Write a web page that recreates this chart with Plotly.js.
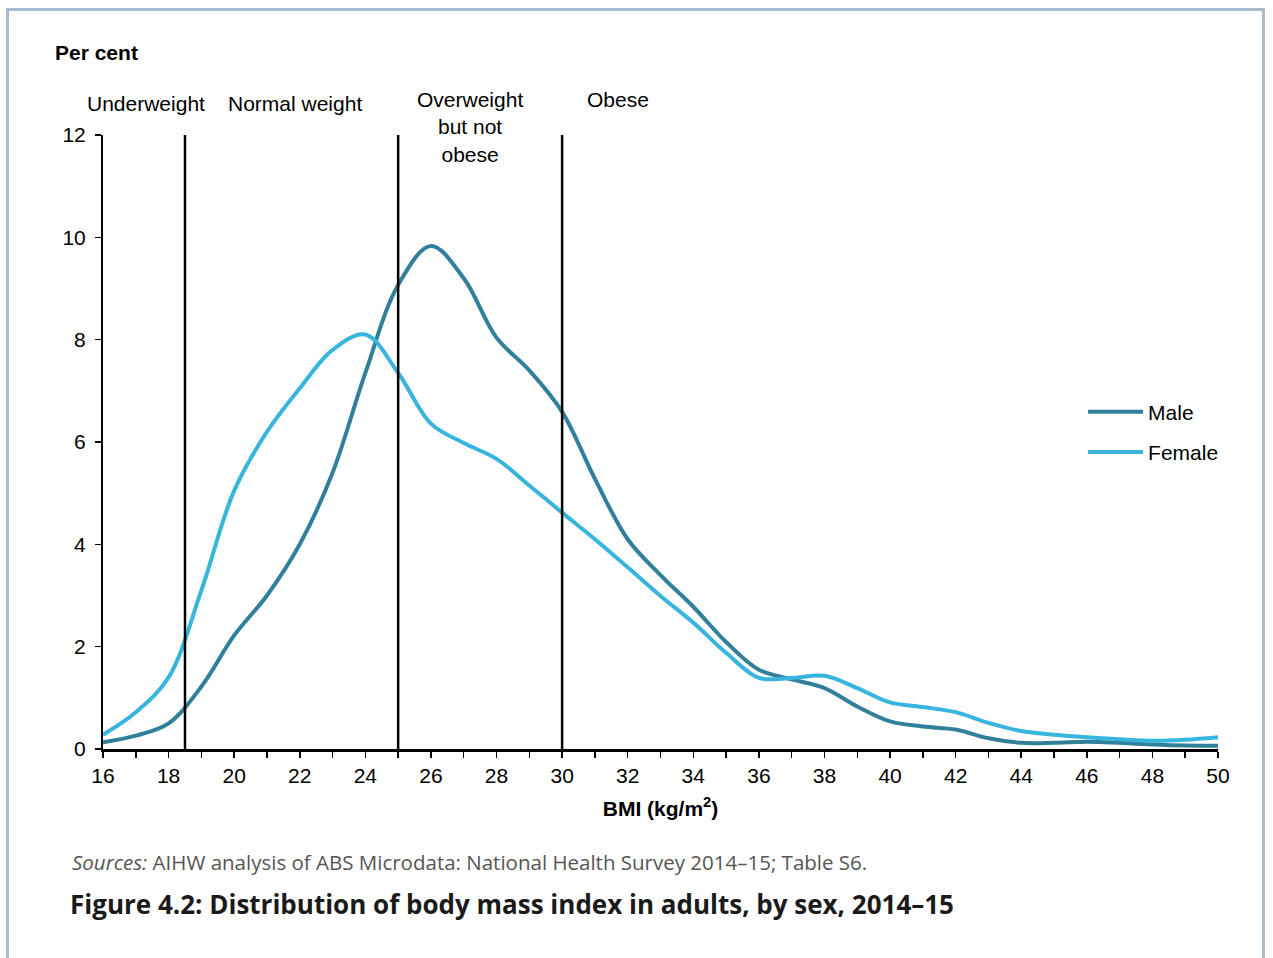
<!DOCTYPE html>
<html>
<head>
<meta charset="utf-8">
<script src="https://cdn.plot.ly/plotly-3.0.1.min.js"></script>
<style>
  html, body { margin: 0; padding: 0; background: #ffffff; }
  #frame { position: absolute; left: 6px; top: 8px; width: 1259px; height: 990px; border: 3px solid #a9bccb; box-sizing: border-box; }
  #chart { position: absolute; left: 0; top: 0; width: 1273px; height: 958px; }
</style>
</head>
<body>
<div id="frame"></div>
<div id="chart"></div>
<script>
// BMI values (kg/m2)
const bmi = [16,17,18,19,20,21,22,23,24,25,26,27,28,29,30,31,32,33,34,35,36,37,38,39,40,41,42,43,44,45,46,47,48,49,50];
// Per cent of adults
const male = [0.13,0.26,0.5,1.22,2.22,3.0,4.0,5.4,7.35,9.07,9.83,9.2,8.04,7.4,6.59,5.28,4.1,3.4,2.78,2.09,1.55,1.36,1.19,0.83,0.54,0.44,0.38,0.21,0.12,0.12,0.14,0.12,0.09,0.07,0.065];
const female = [0.28,0.72,1.4,3.1,5.05,6.2,7.05,7.8,8.1,7.35,6.36,5.98,5.67,5.15,4.62,4.1,3.55,2.99,2.47,1.88,1.39,1.39,1.43,1.19,0.91,0.82,0.72,0.51,0.35,0.28,0.23,0.19,0.16,0.18,0.23];
// Category thresholds and labels
const thresholds = [18.5, 25, 30];
const categoryLabels = ["Underweight", "Normal weight", "Overweight<br>but not<br>obese", "Obese"];
const categoryX = [17.31, 21.86, 27.19, 31.7];
const categoryY = [1.0505, 1.0505, 1.0130, 1.058];
const xTicks = [16,18,20,22,24,26,28,30,32,34,36,38,40,42,44,46,48,50];
const yTicks = [0,2,4,6,8,10,12];

const FONT = 'Liberation Sans, Arial, sans-serif';

const traces = [
  { x: bmi, y: male, name: 'Male', type: 'scatter', mode: 'lines',
    line: { color: '#31809b', width: 4, shape: 'spline', smoothing: 1 }, legendgroup: 'm', hoverinfo: 'skip' },
  { x: bmi, y: female, name: 'Female', type: 'scatter', mode: 'lines',
    line: { color: '#37b5de', width: 4, shape: 'spline', smoothing: 1 }, legendgroup: 'f', hoverinfo: 'skip' }
];

const shapes = thresholds.map(t => ({
  type: 'line', xref: 'x', yref: 'y', x0: t, x1: t, y0: 0, y1: 12,
  line: { color: '#000000', width: 2.5 }
}));

const annotations = categoryLabels.map((t, i) => ({
  text: t, xref: 'x', yref: 'paper', x: categoryX[i], y: categoryY[i],
  xanchor: 'center', yanchor: 'middle', showarrow: false, align: 'center',
  font: { family: FONT, size: 21, color: '#000000' }
}));
annotations.push({
  text: '<b>Per cent</b>', xref: 'paper', yref: 'paper', x: -0.0448, y: 1.1336,
  xanchor: 'left', yanchor: 'middle', showarrow: false,
  font: { family: FONT, size: 21, color: '#000000' }
});
annotations.push({
  text: '<i>Sources:</i> AIHW analysis of ABS Microdata: National Health Survey 2014–15; Table S6.',
  xref: 'paper', yref: 'paper', x: -0.0296, y: -0.184,
  xanchor: 'left', yanchor: 'middle', showarrow: false,
  font: { family: 'Open Sans, sans-serif', size: 20.5, color: '#555555' }
});

const layout = {
  width: 1273, height: 958,
  margin: { l: 103, r: 55, t: 135, b: 209 },
  paper_bgcolor: 'rgba(0,0,0,0)', plot_bgcolor: 'rgba(0,0,0,0)',
  title: {
    text: '<b>Figure 4.2: Distribution of body mass index in adults, by sex, 2014–15</b>',
    xref: 'container', yref: 'container', x: 0.055, xanchor: 'left', y: 1 - 905/958, yanchor: 'middle',
    font: { family: 'Open Sans, sans-serif', size: 26, color: '#1a1a1a' }
  },
  showlegend: true,
  legend: {
    x: 0.879, xanchor: 'left', y: (749 - 432) / 614, yanchor: 'middle',
    font: { family: FONT, size: 21, color: '#000000' },
    itemwidth: 55,
    tracegroupgap: 10, bgcolor: 'rgba(0,0,0,0)'
  },
  xaxis: {
    range: [16, 50], tickvals: xTicks, ticktext: xTicks.map(String),
    ticks: 'outside', ticklen: 6, tickwidth: 1.5, tickcolor: '#000',
    minor: { dtick: 1, tick0: 16, ticks: 'outside', ticklen: 6, tickwidth: 1.5, tickcolor: '#000' },
    showline: true, linecolor: '#000', linewidth: 2.5, showgrid: false, zeroline: false,
    tickfont: { family: FONT, size: 21, color: '#000' },
    title: { text: '<b>BMI (kg/m<sup>2</sup>)</b>', standoff: 16, font: { family: FONT, size: 21, color: '#000' } },
    fixedrange: true
  },
  yaxis: {
    range: [0, 12], tickvals: yTicks, ticktext: yTicks.map(String),
    ticks: 'outside', ticklen: 6, tickwidth: 1.5, tickcolor: '#000',
    ticklabelstandoff: 5,
    showline: true, linecolor: '#000', linewidth: 2, showgrid: false, zeroline: false,
    tickfont: { family: FONT, size: 21, color: '#000' },
    fixedrange: true
  },
  shapes: shapes,
  annotations: annotations
};

Plotly.newPlot('chart', traces, layout, { displayModeBar: false, staticPlot: true });
</script>
</body>
</html>
